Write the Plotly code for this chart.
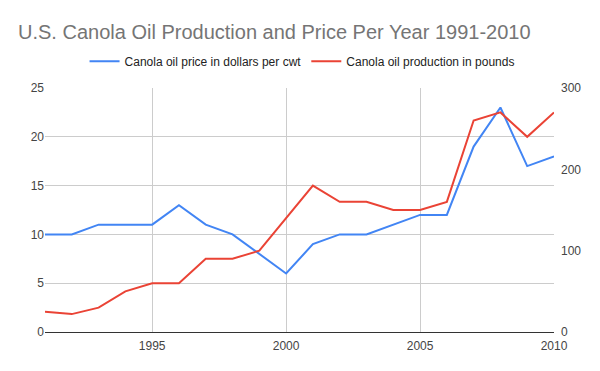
import plotly.graph_objects as go

years = list(range(1991, 2011))
price = [10, 10, 11, 11, 11, 13, 11, 10, 8, 6, 9, 10, 10, 11, 12, 12, 19, 23, 17, 18]
production = [25, 22, 30, 50, 60, 60, 90, 90, 100, 140, 180, 160, 160, 150, 150, 160, 260, 270, 240, 270]

fig = go.Figure()
fig.add_trace(go.Scatter(x=years, y=price, mode="lines", name="Canola oil price in dollars per cwt",
                         line=dict(color="#4285f4", width=2), yaxis="y"))
fig.add_trace(go.Scatter(x=years, y=production, mode="lines", name="Canola oil production in pounds",
                         line=dict(color="#ea4335", width=2), yaxis="y2"))

fig.update_layout(
    width=600, height=371,
    margin=dict(l=45, r=46, t=88, b=39, autoexpand=False),
    paper_bgcolor="white", plot_bgcolor="white",
    font=dict(family="Arial, Liberation Sans, sans-serif", size=12, color="#444444"),
    title=dict(text="U.S. Canola Oil Production and Price Per Year 1991-2010",
               x=0.03, xanchor="left", y=0.915, yanchor="middle",
               font=dict(size=20, color="#757575")),
    legend=dict(orientation="h", x=0.505, xanchor="center", y=1.11, yanchor="middle",
                font=dict(size=12, color="#222222"), itemwidth=30),
    showlegend=True,
    xaxis=dict(range=[1991, 2010], tickvals=[1995, 2000, 2005, 2010], showgrid=True,
               gridcolor="#cccccc", gridwidth=1, showline=True, linecolor="#333333",
               linewidth=1, zeroline=False, ticks="", automargin=False, ticklabelstandoff=3,
               tickfont=dict(size=12, color="#444444")),
    yaxis=dict(range=[0, 25], tickvals=[0, 5, 10, 15, 20, 25], showgrid=True,
               gridcolor="#cccccc", zeroline=False, ticks="", automargin=False,
               tickfont=dict(size=12, color="#444444")),
    yaxis2=dict(range=[0, 300], tickvals=[0, 100, 200, 300], overlaying="y", side="right",
                showgrid=False, zeroline=False, ticks="", automargin=False, ticklabelstandoff=6,
                tickfont=dict(size=12, color="#444444")),
)

fig.write_html("out.html", config={"displayModeBar": False},
               post_script="document.body.style.margin='0';")
